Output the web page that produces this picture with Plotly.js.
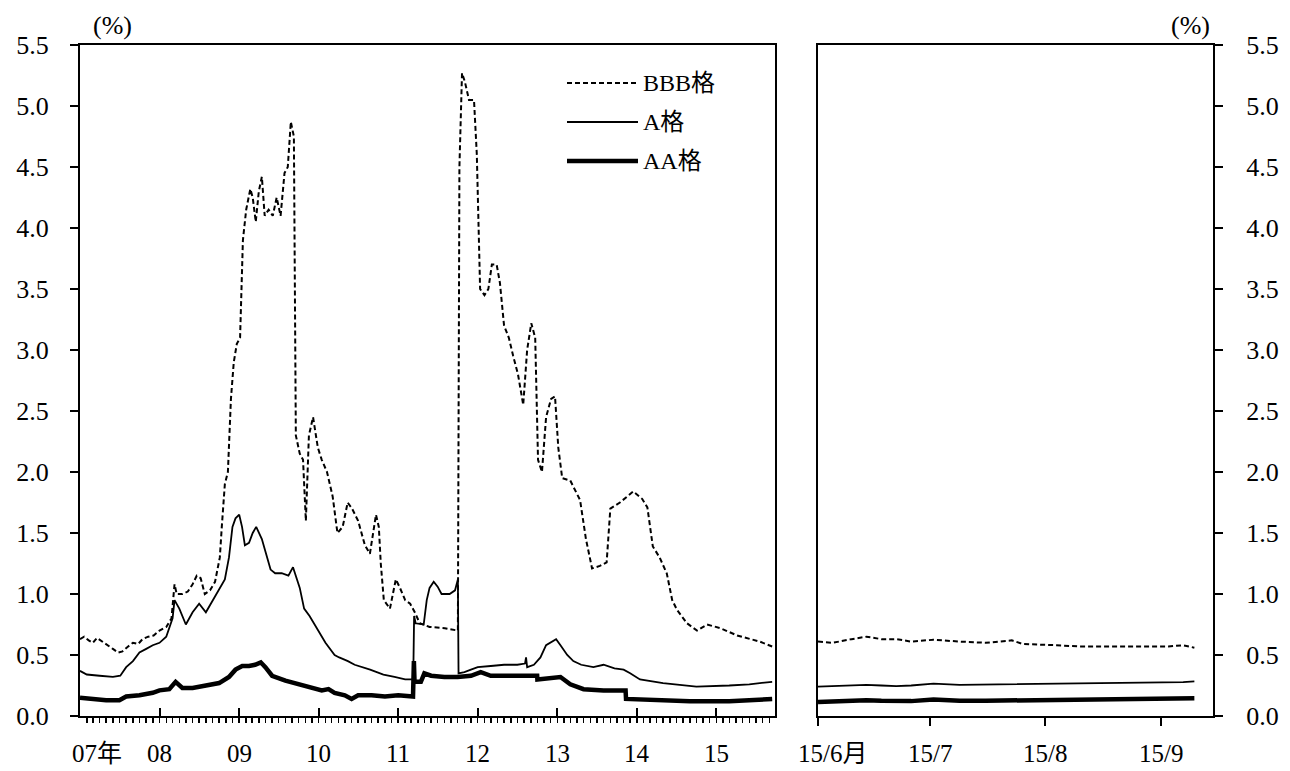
<!DOCTYPE html>
<html>
<head>
<meta charset="utf-8">
<script src="https://cdn.plot.ly/plotly-3.0.1.min.js"></script>
<style>html,body{margin:0;padding:0;background:#fff;}#chart{width:1290px;height:771px;}</style>
</head>
<body>
<div id="chart"></div>
<script>
// ---- Long-term panel (2007 - 2015/9) ----
const bbbDates = ['2007-01-01','2007-01-20','2007-02-10','2007-03-01','2007-03-20','2007-04-15','2007-05-10','2007-06-01','2007-06-25','2007-07-15','2007-08-10','2007-09-01','2007-09-25','2007-10-15','2007-11-10','2007-12-05','2008-01-01','2008-02-01','2008-02-25','2008-03-10','2008-03-20','2008-04-15','2008-05-10','2008-06-01','2008-06-20','2008-07-08','2008-07-27','2008-08-20','2008-09-12','2008-10-04','2008-10-13','2008-10-27','2008-11-10','2008-11-24','2008-12-07','2008-12-21','2009-01-05','2009-01-18','2009-02-02','2009-02-21','2009-03-04','2009-03-18','2009-04-01','2009-04-15','2009-04-28','2009-05-16','2009-06-04','2009-06-22','2009-07-10','2009-07-28','2009-08-12','2009-08-26','2009-09-09','2009-09-18','2009-10-06','2009-10-21','2009-11-03','2009-11-17','2009-12-06','2009-12-28','2010-01-15','2010-02-08','2010-03-06','2010-03-28','2010-04-21','2010-05-14','2010-06-03','2010-07-01','2010-08-01','2010-08-24','2010-09-21','2010-10-04','2010-10-13','2010-10-27','2010-11-24','2010-12-21','2011-01-09','2011-02-02','2011-02-25','2011-03-18','2011-04-10','2011-05-25','2011-08-03','2011-10-02','2011-10-09','2011-10-21','2011-11-03','2011-11-22','2011-12-15','2011-12-28','2012-01-12','2012-02-01','2012-02-19','2012-03-06','2012-03-28','2012-04-12','2012-05-01','2012-05-23','2012-06-12','2012-07-04','2012-07-28','2012-08-15','2012-09-03','2012-09-21','2012-10-04','2012-10-22','2012-11-10','2012-12-03','2012-12-21','2013-01-05','2013-01-23','2013-03-01','2013-04-15','2013-05-12','2013-06-09','2013-07-15','2013-08-15','2013-09-01','2013-10-15','2013-12-15','2014-01-25','2014-02-18','2014-03-15','2014-04-15','2014-05-18','2014-06-12','2014-07-04','2014-08-19','2014-10-04','2014-11-19','2015-01-19','2015-04-06','2015-07-19','2015-09-14'];
const bbbValues = [0.63,0.65,0.62,0.60,0.64,0.61,0.58,0.55,0.52,0.53,0.57,0.60,0.59,0.63,0.65,0.66,0.70,0.73,0.80,1.08,1.00,1.00,1.02,1.08,1.15,1.13,1.00,1.03,1.10,1.30,1.55,1.90,2.00,2.60,2.90,3.05,3.10,3.90,4.15,4.32,4.25,4.05,4.30,4.42,4.10,4.15,4.10,4.25,4.10,4.45,4.50,4.87,4.75,2.30,2.15,2.10,1.60,2.30,2.45,2.20,2.10,2.00,1.80,1.50,1.55,1.75,1.70,1.60,1.40,1.33,1.65,1.55,1.25,0.95,0.88,1.12,1.05,0.95,0.92,0.85,0.76,0.73,0.72,0.70,4.50,5.27,5.20,5.05,5.05,4.60,3.50,3.45,3.50,3.70,3.70,3.55,3.20,3.10,2.95,2.80,2.55,3.00,3.22,3.10,2.10,2.00,2.45,2.60,2.62,2.20,1.95,1.93,1.77,1.45,1.21,1.23,1.26,1.70,1.75,1.84,1.78,1.71,1.39,1.30,1.17,0.95,0.87,0.76,0.70,0.75,0.72,0.66,0.61,0.57];

const aDates = ['2007-01-01','2007-02-01','2007-04-01','2007-06-01','2007-07-05','2007-08-01','2007-09-01','2007-10-01','2007-11-01','2007-12-01','2008-01-01','2008-02-01','2008-03-01','2008-03-10','2008-04-01','2008-05-01','2008-06-01','2008-07-01','2008-08-01','2008-09-01','2008-10-04','2008-10-27','2008-11-15','2008-12-01','2008-12-15','2009-01-01','2009-01-14','2009-01-27','2009-02-15','2009-03-04','2009-03-20','2009-04-15','2009-05-01','2009-05-25','2009-06-15','2009-07-15','2009-08-15','2009-09-05','2009-10-06','2009-10-26','2009-11-20','2009-12-25','2010-02-01','2010-03-15','2010-04-05','2010-05-15','2010-06-15','2010-08-25','2010-10-25','2010-12-15','2011-02-02','2011-03-11','2011-03-15','2011-03-22','2011-04-28','2011-05-12','2011-05-25','2011-06-13','2011-07-01','2011-07-19','2011-08-25','2011-09-19','2011-10-02','2011-10-05','2011-11-01','2011-12-01','2012-01-01','2012-03-01','2012-05-01','2012-07-01','2012-08-05','2012-08-10','2012-08-15','2012-09-15','2012-10-15','2012-11-10','2012-12-15','2012-12-26','2013-01-15','2013-02-15','2013-03-15','2013-04-20','2013-06-15','2013-08-01','2013-09-20','2013-11-01','2013-12-01','2014-01-15','2014-05-01','2014-10-01','2015-03-01','2015-06-01','2015-09-14'];
const aValues = [0.37,0.34,0.33,0.32,0.33,0.40,0.45,0.52,0.55,0.58,0.60,0.65,0.80,0.95,0.88,0.75,0.85,0.92,0.85,0.95,1.05,1.12,1.30,1.55,1.62,1.65,1.55,1.40,1.42,1.50,1.55,1.45,1.35,1.20,1.17,1.17,1.15,1.22,1.05,0.88,0.82,0.72,0.60,0.50,0.48,0.45,0.42,0.38,0.34,0.32,0.30,0.30,0.82,0.76,0.75,0.95,1.05,1.10,1.06,1.00,1.00,1.03,1.12,0.35,0.36,0.38,0.40,0.41,0.42,0.42,0.43,0.48,0.40,0.42,0.48,0.58,0.62,0.63,0.58,0.50,0.45,0.42,0.40,0.42,0.39,0.38,0.35,0.30,0.27,0.24,0.25,0.26,0.28];

const aaDates = ['2007-01-01','2007-03-01','2007-05-01','2007-07-01','2007-08-01','2007-10-01','2007-12-01','2008-01-01','2008-02-15','2008-03-15','2008-04-15','2008-06-01','2008-08-01','2008-10-01','2008-11-15','2008-12-15','2009-01-15','2009-02-15','2009-03-15','2009-04-10','2009-05-01','2009-06-01','2009-08-01','2009-10-01','2009-12-01','2010-01-15','2010-02-15','2010-03-15','2010-05-01','2010-06-01','2010-07-01','2010-09-01','2010-11-01','2011-01-01','2011-03-10','2011-03-14','2011-03-17','2011-04-15','2011-05-01','2011-06-01','2011-08-01','2011-10-01','2011-12-01','2012-01-15','2012-03-01','2012-06-01','2012-09-30','2012-10-01','2012-12-01','2013-01-15','2013-03-01','2013-05-01','2013-08-01','2013-11-10','2013-11-12','2014-03-01','2014-09-01','2015-03-01','2015-09-14'];
const aaValues = [0.15,0.14,0.13,0.13,0.16,0.17,0.19,0.21,0.22,0.28,0.23,0.23,0.25,0.27,0.32,0.38,0.41,0.41,0.42,0.44,0.40,0.33,0.29,0.26,0.23,0.21,0.22,0.19,0.17,0.14,0.17,0.17,0.16,0.17,0.16,0.45,0.28,0.28,0.35,0.33,0.32,0.32,0.33,0.36,0.33,0.33,0.33,0.30,0.31,0.32,0.26,0.22,0.21,0.21,0.14,0.13,0.12,0.12,0.14];

// ---- Recent panel (2015/6 - 2015/9) ----
const recentDates = ['2015-06-01','2015-06-05','2015-06-10','2015-06-14','2015-06-18','2015-06-22','2015-06-26','2015-07-02','2015-07-09','2015-07-16','2015-07-23','2015-07-26','2015-08-04','2015-08-10','2015-08-17','2015-08-24','2015-08-31','2015-09-03','2015-09-07','2015-09-10'];
const bbbRecent = [0.61,0.60,0.63,0.65,0.63,0.63,0.61,0.625,0.61,0.60,0.62,0.59,0.58,0.57,0.57,0.57,0.57,0.57,0.58,0.56];
const aRecent   = [0.24,0.245,0.25,0.255,0.25,0.245,0.25,0.265,0.255,0.258,0.26,0.262,0.265,0.268,0.27,0.27,0.272,0.275,0.278,0.283];
const aaRecent  = [0.115,0.12,0.125,0.13,0.125,0.12,0.122,0.135,0.125,0.125,0.127,0.128,0.13,0.133,0.135,0.132,0.133,0.135,0.14,0.145];

// ---- Labels ----
const seriesNames = ['BBB格','A格','AA格'];
const yTickVals = [0,0.5,1,1.5,2,2.5,3,3.5,4,4.5,5,5.5];
const yearTickVals = ['2008-01-01','2009-01-01','2010-01-01','2011-01-01','2012-01-01','2013-01-01','2014-01-01','2015-01-01'];
const yearLabelVals = ['2007-03-19','2008-01-01','2009-01-01','2010-01-01','2011-01-01','2012-01-01','2013-01-01','2014-01-01','2015-01-01'];
const yearLabelText = ['07年','08','09','10','11','12','13','14','15'];
const monthTickVals = ['2015-06-01','2015-07-01','2015-08-01','2015-09-01'];
const monthLabelVals = ['2015-06-05','2015-07-01','2015-08-01','2015-09-01'];
const monthLabelText = ['15/6月','15/7','15/8','15/9'];
const unitLabel = '(%)';

const FONT = '"Liberation Serif", "Noto Sans CJK JP", serif';
const TICKSIZE = 26;
const styles = [
  {color:'#000', width:2, dash:'5px,3px'},
  {color:'#000', width:1.8, dash:'solid'},
  {color:'#000', width:4.5, dash:'solid'}
];

const W = 1290, H = 771;
const px = v => v / W;
const py = v => 1 - v / H;

const traces = [];
const leftSets = [[bbbDates,bbbValues],[aDates,aValues],[aaDates,aaValues]];
const rightSets = [bbbRecent,aRecent,aaRecent];
leftSets.forEach((s,i)=>{
  traces.push({x:s[0], y:s[1], type:'scatter', mode:'lines', name:seriesNames[i], xaxis:'x', yaxis:'y',
    line:styles[i], showlegend:false, hoverinfo:'skip'});
});
rightSets.forEach((s,i)=>{
  traces.push({x:recentDates, y:s, type:'scatter', mode:'lines', name:seriesNames[i], xaxis:'x2', yaxis:'y2',
    line:styles[i], showlegend:false, hoverinfo:'skip'});
});

const yDom = [py(716), py(45)];
const axBase = {showgrid:false, zeroline:false, linecolor:'#000', linewidth:2, tickcolor:'#000', tickwidth:2,
  tickfont:{family:FONT, size:TICKSIZE, color:'#000'}};

// legend drawn as line samples + text
const legY = [83, 122, 161];
const shapes = legY.map((yy,i)=>({type:'line', xref:'paper', yref:'paper', x0:px(567), x1:px(638), y0:py(yy), y1:py(yy),
  line:{color:'#000', width:styles[i].width, dash:styles[i].dash}}));
const annotations = legY.map((yy,i)=>({xref:'paper', yref:'paper', x:px(641), y:py(yy), xanchor:'left', yanchor:'middle',
  text:seriesNames[i], showarrow:false, font:{family:FONT, size:24, color:'#000'}}));
annotations.push({xref:'paper', yref:'paper', x:px(112), y:py(26), text:unitLabel, showarrow:false, xanchor:'center', yanchor:'middle', font:{family:FONT, size:26, color:'#000'}});
annotations.push({xref:'paper', yref:'paper', x:px(1190), y:py(26), text:unitLabel, showarrow:false, xanchor:'center', yanchor:'middle', font:{family:FONT, size:26, color:'#000'}});
// x-axis labels (placed on the date scale)
yearLabelVals.forEach((d,i)=>annotations.push({xref:'x', yref:'paper', x:d, y:py(769), text:yearLabelText[i], showarrow:false,
  xanchor:'center', yanchor:'bottom', font:{family:FONT, size:25, color:'#000'}}));
monthLabelVals.forEach((d,i)=>annotations.push({xref:'x2', yref:'paper', x:d, y:py(769), text:monthLabelText[i], showarrow:false,
  xanchor:'center', yanchor:'bottom', font:{family:FONT, size:25, color:'#000'}}));

const layout = {
  width:W, height:H, margin:{l:0,r:0,t:0,b:0}, paper_bgcolor:'#fff', plot_bgcolor:'rgba(0,0,0,0)', showlegend:false,
  xaxis: Object.assign({}, axBase, {type:'date', domain:[px(80), px(775)], range:['2007-01-01','2015-09-27'], anchor:'y',
    tickmode:'array', tickvals:yearTickVals, ticks:'inside', ticklen:8, showticklabels:false, mirror:true,
    minor:{dtick:'M1', tick0:'2007-01-01', ticks:'outside', ticklen:5, tickwidth:1.5, tickcolor:'#000', showgrid:false}}),
  yaxis: Object.assign({}, axBase, {domain:yDom, range:[0,5.5], anchor:'x', tickmode:'array', tickvals:yTickVals, tickformat:'.1f',
    ticks:'outside', ticklen:8, mirror:true, ticklabelstandoff:16}),
  xaxis2: Object.assign({}, axBase, {type:'date', domain:[px(818), px(1213)], range:['2015-06-01','2015-09-15'], anchor:'y2',
    tickmode:'array', tickvals:monthTickVals, ticks:'outside', ticklen:8, showticklabels:false, mirror:true}),
  yaxis2: Object.assign({}, axBase, {domain:yDom, range:[0,5.5], anchor:'x2', side:'right', tickmode:'array', tickvals:yTickVals, tickformat:'.1f',
    ticks:'outside', ticklen:8, mirror:true, ticklabelstandoff:18}),
  shapes: shapes,
  annotations: annotations
};

Plotly.newPlot('chart', traces, layout, {staticPlot:true, displayModeBar:false});
</script>
</body>
</html>
